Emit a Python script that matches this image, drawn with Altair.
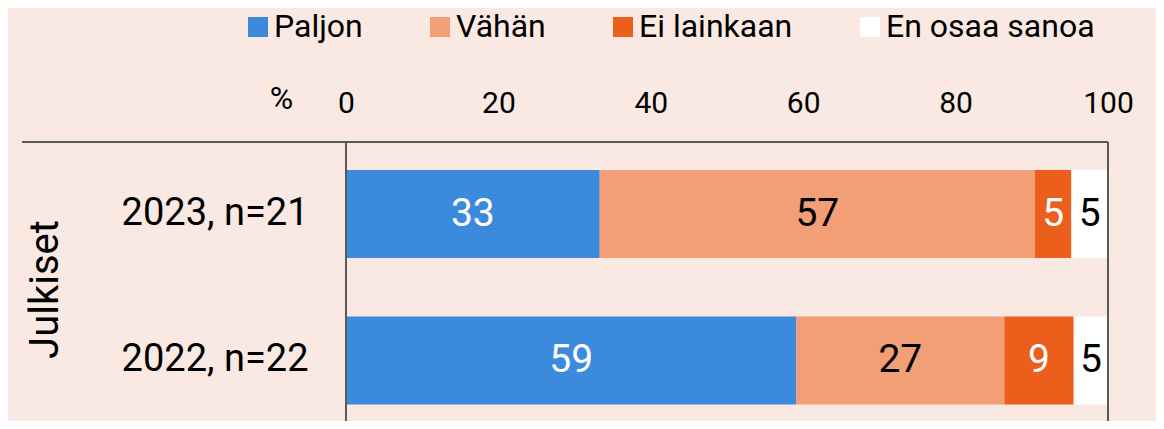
import altair as alt
import pandas as pd

rows = ["2023, n=21", "2022, n=22"]
categories = ["Paljon", "Vähän", "Ei lainkaan", "En osaa sanoa"]
values_2023 = [33.3, 57.1, 4.8, 4.8]
values_2022 = [59.1, 27.3, 9.1, 4.5]
labels_2023 = ["33", "57", "5", "5"]
labels_2022 = ["59", "27", "9", "5"]
x_ticks = [0, 20, 40, 60, 80, 100]
colors = ["#3C8ADC", "#F29E76", "#EB5E1B", "#FFFFFF"]
group_title = "Julkiset"
x_title = "%"

BG = "#F9E9E2"
LINE = "#595959"
FONT = "Roboto"
W, H = 762, 279

recs = []
for row, vals, labs in [(rows[0], values_2023, labels_2023), (rows[1], values_2022, labels_2022)]:
    for i, (c, v, l) in enumerate(zip(categories, vals, labs)):
        recs.append({"row": row, "cat": c, "idx": i, "value": v, "label": l})
df = pd.DataFrame(recs)

yscale = alt.Scale(paddingInner=0.4, paddingOuter=0.152, align=0.628)
xscale = alt.Scale(domain=[0, 100])

base = alt.Chart(df).transform_stack(
    stack="value", groupby=["row"], as_=["x0", "x1"],
    sort=[alt.SortField("idx", order="ascending")]
).transform_calculate(mid="(datum.x0 + datum.x1) / 2")

bars = base.mark_bar().encode(
    y=alt.Y("row:N", sort=rows, scale=yscale, title=group_title,
            axis=alt.Axis(domain=False, ticks=False, grid=False,
                          labelFontSize=38, labelColor="black", labelPadding=38,
                          labelLimit=300,
                          labelFont=FONT, titleFont=FONT, titleFontSize=40,
                          titleFontWeight="normal", titleColor="black",
                          titleAngle=270, titleX=-289, titleY=147,
                          titleAlign="center", titleBaseline="alphabetic")),
    x=alt.X("x0:Q", scale=xscale, title=x_title,
            axis=alt.Axis(orient="top", values=x_ticks, domain=False, ticks=False,
                          grid=False, labelFontSize=30, labelColor="black",
                          labelFont=FONT, labelPadding=30, labelBaseline="alphabetic",
                          labelFlush=False, labelOverlap=False,
                          titleFont=FONT, titleFontSize=32,
                          titleFontWeight="normal", titleColor="black",
                          titleX=-65, titleY=-34, titleAlign="center",
                          titleBaseline="alphabetic", titleAngle=0)),
    x2="x1:Q",
    color=alt.Color("cat:N", scale=alt.Scale(domain=categories, range=colors),
                    legend=alt.Legend(orient="none", legendX=-104, legendY=-131,
                                      direction="horizontal", title=None,
                                      symbolType="square", symbolSize=400,
                                      symbolStrokeWidth=0, symbolOpacity=1,
                                      labelFontSize=32, labelFont=FONT,
                                      labelColor="black", labelOffset=0,
                                      labelLimit=400,
                                      columnPadding=61, padding=0)),
)

texts = base.mark_text(fontSize=39, font=FONT, baseline="middle", align="center").encode(
    y=alt.Y("row:N", sort=rows, scale=yscale, title=group_title),
    x=alt.X("mid:Q", scale=xscale, title=x_title),
    text="label:N",
    color=alt.condition(
        alt.FieldOneOfPredicate(field="cat", oneOf=["Paljon", "Ei lainkaan"]),
        alt.value("white"), alt.value("black")),
)

frame_top = alt.Chart(alt.Data(values=[{"a": 1}])).mark_rule(
    color=LINE, strokeWidth=2).encode(
    x=alt.value(-324), x2=alt.value(W), y=alt.value(0))

frame_sides = alt.Chart(pd.DataFrame({"edge": [0, 100]})).mark_rule(
    color=LINE, strokeWidth=2).encode(
    x=alt.X("edge:Q", scale=xscale, title=x_title), y=alt.value(0), y2=alt.value(H))

chart = alt.layer(bars, texts, frame_sides, frame_top).properties(
    width=W, height=H,
    autosize=alt.AutoSizeParams(type="none"),
    padding={"left": 338, "top": 134, "right": 48, "bottom": 0},
    background=BG,
).configure(font=FONT).configure_view(stroke=None)

chart.save("out.html", embed_options={"renderer": "svg", "actions": False})
